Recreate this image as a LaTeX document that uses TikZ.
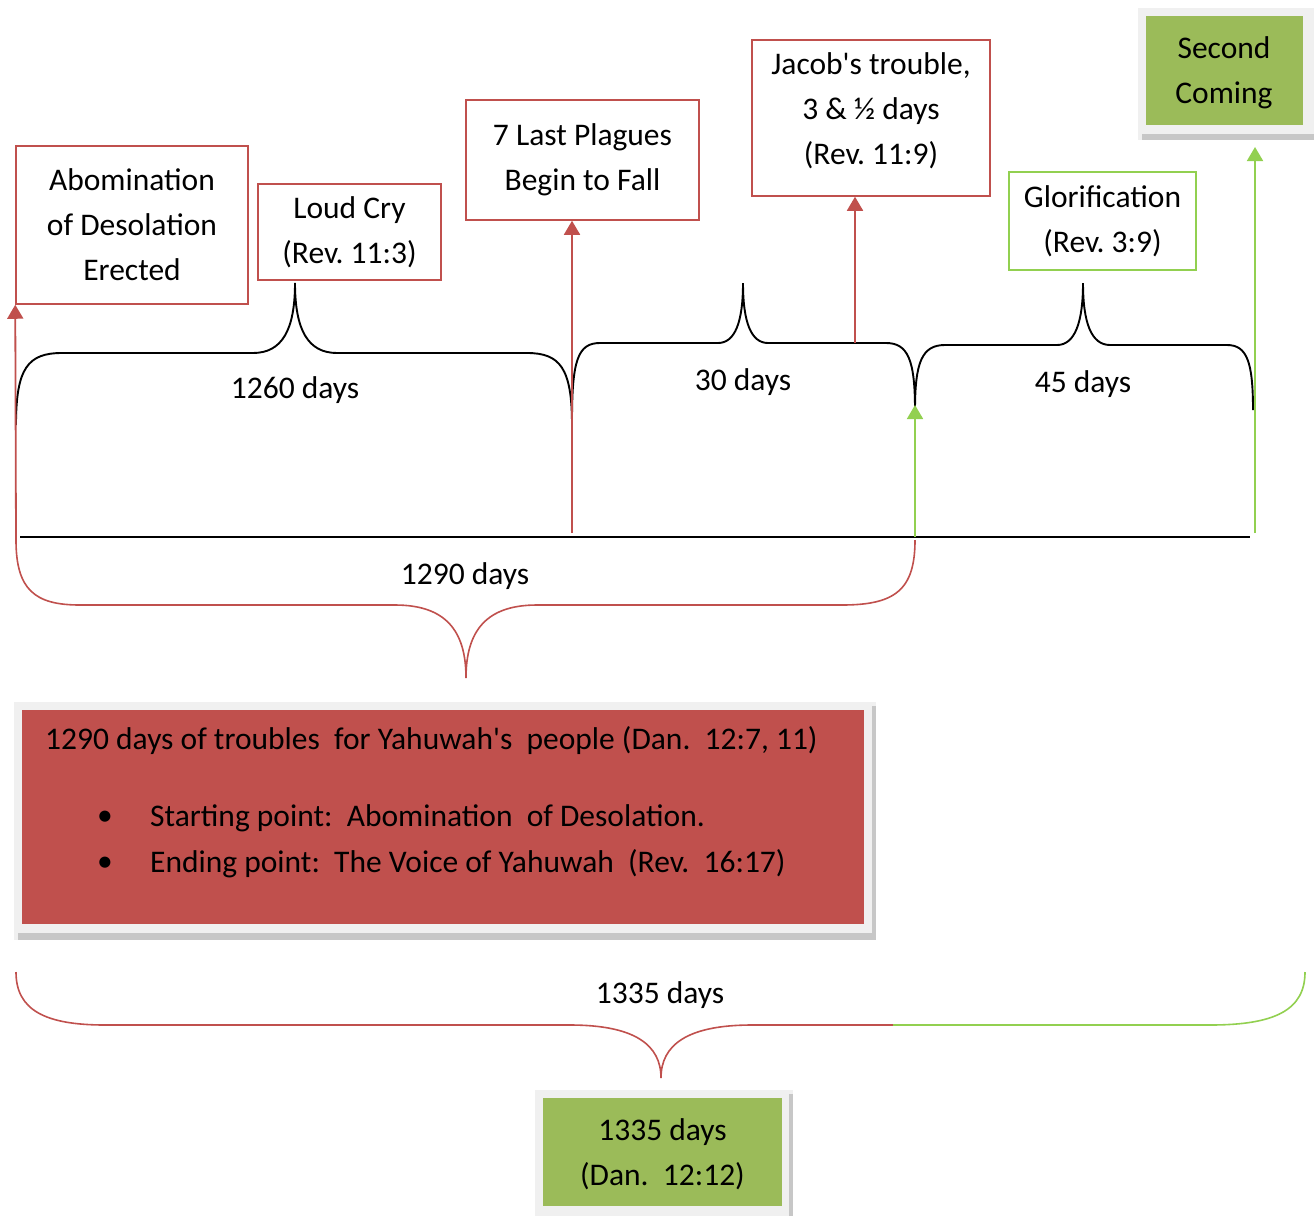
\documentclass[tikz,border=0pt]{standalone}
\usepackage{fontspec}
\setmainfont{Carlito}
\usetikzlibrary{arrows.meta}
\definecolor{rd}{HTML}{C0504D}
\definecolor{gn}{HTML}{92D050}
\definecolor{gf}{HTML}{9BBB59}
\newcommand{\apo}{\textquotesingle}
\begin{document}
\frenchspacing
\begin{tikzpicture}[x=1pt,y=-1pt,
  bigfont/.style={font=\fontsize{31.5}{45}\selectfont},
  txt/.style={bigfont, inner sep=0pt, align=center},
  rbox/.style={txt, draw=rd, line width=1.5pt, fill=white},
  gbox/.style={txt, draw=gn, line width=1.5pt, fill=white},
  fillbox/.style={txt, draw=none},
  bracepath/.style={line width=1.9pt, black},
  rbrace/.style={line width=1.6pt, rd},
  gbrace/.style={line width=1.6pt, gn},
  rarrow/.style={draw=rd, line width=1.8pt, -{Triangle[width=16pt,length=14pt]}},
  garrow/.style={draw=gn, line width=1.8pt, -{Triangle[width=16pt,length=14pt]}},
  frameout/.style={fill=black!6, draw=none},
  frameshade/.style={fill=black!22, draw=none}
]
\useasboundingbox (0,0) rectangle (1314,1216);

% ---- top boxes
\node[rbox, minimum width=232pt, minimum height=158pt] (abom) at (132,225) {Abomination\\of Desolation\\Erected};
\node[rbox, minimum width=183pt, minimum height=96pt] (loud) at (349.5,232) {Loud Cry\\(Rev. 11:3)};
\node[rbox, minimum width=233pt, minimum height=120pt] (plag) at (582.5,160) {7 Last Plagues\\Begin to Fall};
\node[rbox, minimum width=238pt, minimum height=156pt, text depth=19pt] (jacob) at (871,118) {Jacob\apo s trouble,\\3 \& ½ days\\(Rev. 11:9)};
\node[gbox, minimum width=187pt, minimum height=98pt] (glor) at (1102.5,221) {Glorification\\(Rev. 3:9)};

% Second Coming (filled, framed)
\fill[frameout] (1138,8) rectangle (1314,140);
\fill[frameshade] (1142,134) rectangle (1314,140);
\node[fillbox, fill=gf, minimum width=157pt, minimum height=109pt, text depth=0pt] (second) at (1224,70.5) {Second\\Coming};

% ---- timeline
\coordinate (tlA) at (20,537);
\coordinate (tlB) at (1250,537);
\draw[line width=2.4pt] (tlA) -- (tlB);

% ---- black braces
\draw[bracepath] (16,425) .. controls (16,368) and (28,353) .. (62,353) -- (253,353)
  .. controls (282,353) and (295,330) .. (295,283)
  .. controls (295,330) and (308,353) .. (337,353) -- (527,353)
  .. controls (560,353) and (572,368) .. (572,425);
\draw[bracepath] (572,420) .. controls (572,360) and (578,343) .. (600,343) -- (718,343)
  .. controls (735,343) and (743,322) .. (743,283)
  .. controls (743,322) and (751,343) .. (768,343) -- (886,343)
  .. controls (908,343) and (915,360) .. (915,410);
\draw[bracepath] (915,410) .. controls (915,362) and (922,345) .. (945,345) -- (1057,345)
  .. controls (1075,345) and (1083,322) .. (1083,283)
  .. controls (1083,322) and (1091,345) .. (1110,345) -- (1227,345)
  .. controls (1247,345) and (1253,362) .. (1253,410);

\node[txt] (l1260) at (295,390) {1260 days};
\node[txt] (l30) at (743,382) {30 days};
\node[txt] (l45) at (1083,384) {45 days};

% ---- arrows
\coordinate (a1) at (16,540);
\coordinate (a2) at (572,533);
\coordinate (a3) at (855,343);
\coordinate (a4) at (915,537);
\coordinate (a4t) at (915,405);
\coordinate (a5) at (1255,533);
\coordinate (a5t) at (1255,147);
\draw[rarrow] (a1) -- (abom.south west);
\draw[rarrow] (a2) -- (a2 |- plag.south);
\draw[rarrow] (a3) -- (a3 |- jacob.south);
\draw[garrow] (a4) -- (a4t);
\draw[garrow] (a5) -- (a5t);

% ---- 1290 brace
\draw[rbrace] (16,540) .. controls (16,590) and (35,605) .. (80,605) -- (395,605)
  .. controls (445,605) and (466,630) .. (466,678)
  .. controls (466,630) and (487,605) .. (537,605) -- (842,605)
  .. controls (895,605) and (915,590) .. (915,540);
\node[txt] (l1290) at (465,576) {1290 days};

% ---- red summary box
\fill[frameout] (14,702) rectangle (876,940);
\fill[frameshade] (18,933) rectangle (876,940);
\fill[frameshade] (872,706) rectangle (876,940);
\node[fillbox, fill=rd, minimum width=842pt, minimum height=214pt] (trouble) at (443,817) {};
\node[txt, anchor=west] (tt) at (45,741) {1290 days of troubles~ for Yahuwah\apo s~ people (Dan.~ 12:7, 11)};
\node[txt] (b1) at (105,818) {•};
\node[txt] (b2) at (105,864) {•};
\node[txt, anchor=west] (s1) at (150,818) {Starting point:~ Abomination~ of Desolation.};
\node[txt, anchor=west] (s2) at (150,864) {Ending point:~ The Voice of Yahuwah~ (Rev.~ 16:17)};

% ---- 1335 brace
\draw[rbrace] (16,972) .. controls (16,1010) and (45,1025) .. (105,1025) -- (570,1025)
  .. controls (635,1025) and (661,1045) .. (661,1078)
  .. controls (661,1045) and (687,1025) .. (752,1025) -- (893,1025);
\draw[gbrace] (893,1025) -- (1210,1025)
  .. controls (1275,1025) and (1305,1010) .. (1305,972);
\node[txt] (l1335) at (660,995) {1335 days};

% ---- green summary box
\fill[frameout] (535,1090) rectangle (793,1216);
\fill[frameshade] (789,1094) rectangle (793,1216);
\node[fillbox, fill=gf, minimum width=239pt, minimum height=108pt, text depth=0pt] (dan) at (662.5,1152) {1335 days\\(Dan.~ 12:12)};
\end{tikzpicture}
\end{document}
